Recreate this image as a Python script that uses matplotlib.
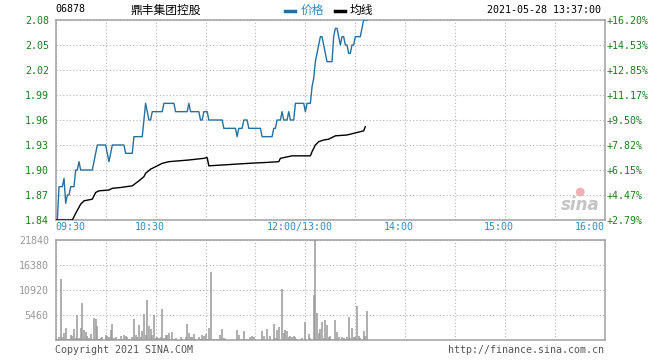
import matplotlib
matplotlib.use("Agg")
import matplotlib.pyplot as plt
import matplotlib.transforms as mtransforms
import numpy as np

code = "06878"
name = "鼎丰集团控股"
stamp = "2021-05-28 13:37:00"

# one value per minute from 09:30 (index 150 = 13:00)
price = [
    1.84, 1.84, 1.88, 1.88, 1.88, 1.89, 1.86, 1.87, 1.87, 1.88,
    1.88, 1.88, 1.90, 1.90, 1.91, 1.90, 1.90, 1.90, 1.90, 1.90,
    1.90, 1.90, 1.90, 1.91, 1.92, 1.93, 1.93, 1.93, 1.93, 1.93,
    1.93, 1.92, 1.91, 1.92, 1.93, 1.93, 1.93, 1.93, 1.93, 1.93,
    1.93, 1.93, 1.92, 1.92, 1.92, 1.92, 1.92, 1.94, 1.94, 1.94,
    1.94, 1.94, 1.94, 1.96, 1.98, 1.97, 1.96, 1.96, 1.97, 1.97,
    1.97, 1.97, 1.97, 1.97, 1.97, 1.98, 1.98, 1.98, 1.98, 1.98,
    1.98, 1.98, 1.97, 1.97, 1.97, 1.97, 1.97, 1.97, 1.97, 1.97,
    1.98, 1.97, 1.97, 1.97, 1.97, 1.97, 1.97, 1.96, 1.96, 1.97,
    1.97, 1.97, 1.96, 1.96, 1.96, 1.96, 1.96, 1.96, 1.96, 1.96,
    1.96, 1.95, 1.95, 1.95, 1.95, 1.95, 1.95, 1.95, 1.95, 1.94,
    1.95, 1.95, 1.95, 1.96, 1.96, 1.96, 1.95, 1.95, 1.95, 1.95,
    1.95, 1.95, 1.95, 1.95, 1.94, 1.94, 1.94, 1.94, 1.94, 1.94,
    1.94, 1.95, 1.95, 1.96, 1.96, 1.96, 1.97, 1.96, 1.96, 1.96,
    1.97, 1.96, 1.96, 1.96, 1.98, 1.98, 1.98, 1.98, 1.98, 1.98,
    1.97, 1.98, 1.98, 1.98, 2.00, 2.01, 2.03, 2.04, 2.05, 2.06,
    2.06, 2.05, 2.04, 2.03, 2.03, 2.03, 2.03, 2.06, 2.07, 2.07,
    2.06, 2.05, 2.06, 2.06, 2.05, 2.05, 2.04, 2.04, 2.05, 2.05,
    2.06, 2.06, 2.06, 2.06, 2.07, 2.08, 2.08, 2.08,
]

volume = [
    400, 220, 730, 13400, 730, 1460, 2550, 220, 220, 1090,
    870, 2400, 360, 5460, 360, 2690, 8000, 2180, 1820, 950,
    360, 1310, 220, 4880, 4590, 3130, 220, 360, 730, 0,
    1090, 870, 730, 2180, 3490, 360, 730, 0, 220, 950,
    220, 1090, 950, 730, 220, 0, 730, 4590, 1090, 730,
    3280, 730, 1970, 5680, 1090, 8740, 3130, 2400, 1090, 5460,
    360, 730, 360, 730, 6770, 360, 1090, 1090, 1460, 0,
    1820, 220, 360, 0, 0, 730, 220, 0, 730, 3490,
    1600, 730, 730, 1310, 220, 0, 730, 220, 1090, 950,
    1240, 220, 2550, 14920, 0, 220, 0, 220, 0, 1090,
    2400, 360, 220, 0, 0, 0, 0, 0, 0, 2180,
    1090, 0, 220, 1970, 0, 220, 0, 730, 950, 730,
    220, 0, 0, 0, 1970, 870, 0, 2400, 0, 950,
    0, 3490, 510, 2180, 2910, 0, 11140, 1600, 2180, 1970,
    730, 950, 730, 950, 730, 220, 0, 0, 510, 0,
    4000, 0, 1240, 360, 0, 9830, 21840, 5820, 1460, 2400,
    3860, 510, 4370, 3280, 730, 870, 220, 0, 4370, 1820,
    730, 0, 730, 510, 220, 730, 5100, 510, 2550, 730,
    730, 7430, 950, 510, 0, 1970, 950, 6330,
]

avg_minutes = [0, 10, 12, 15, 17, 22, 24, 26, 32, 34, 39, 46, 50, 53, 54, 57,
               60, 64, 68, 80, 89, 91, 92, 108, 116, 126, 134, 135, 142, 153,
               154, 156, 158, 161, 164, 168, 175, 179, 185, 186]
avg_values = [1.840, 1.840, 1.848, 1.859, 1.863, 1.865, 1.873, 1.875, 1.876,
              1.878, 1.879, 1.881, 1.887, 1.892, 1.896, 1.901, 1.904, 1.908,
              1.910, 1.912, 1.914, 1.915, 1.905, 1.907, 1.908, 1.909, 1.910,
              1.914, 1.917, 1.917, 1.922, 1.930, 1.934, 1.936, 1.937, 1.941,
              1.942, 1.944, 1.947, 1.952]

price_ticks = [1.84, 1.87, 1.90, 1.93, 1.96, 1.99, 2.02, 2.05, 2.08]
pct_labels = ["+2.79%", "+4.47%", "+6.15%", "+7.82%", "+9.50%",
              "+11.17%", "+12.85%", "+14.53%", "+16.20%"]
vol_ticks = [0, 5460, 10920, 16380, 21840]
vol_labels = ["", "5460", "10920", "16380", "21840"]
time_pos = [0, 60, 150, 210, 270, 330]
time_labels = ["09:30", "10:30", "12:00/13:00", "14:00", "15:00", "16:00"]

W, H = 660, 360
mono = "DejaVu Sans Mono"
cjk = ["Noto Sans CJK SC", "DejaVu Sans"]
green = "#1e7b1e"
blue = "#2f8cc0"
edge = "#a0a0a0"


def box(l, t, r, b):
    return [l / W, 1 - b / H, (r - l) / W, (b - t) / H]


def style(a):
    for s in a.spines.values():
        s.set_color(edge)
        s.set_linewidth(1.1)
    a.set_xlim(0, 330)
    a.set_xticks(np.arange(0, 331, 30))
    a.tick_params(axis="x", length=0, labelbottom=False)
    a.grid(True, ls=(0, (1, 2)), color="#b4b4b4", lw=0.8)
    a.set_axisbelow(True)


fig = plt.figure(figsize=(W / 100, H / 100), dpi=100)
ax = fig.add_axes(box(55.7, 20, 605, 220))
axv = fig.add_axes(box(55.7, 240, 605, 340))
style(ax)
style(axv)

ax.set_ylim(1.84, 2.08)
ax.set_yticks(price_ticks)
ax.set_yticklabels(["%.2f" % t for t in price_ticks])
ax.tick_params(axis="y", length=0, pad=5, labelcolor=green, labelsize=7.2)
for lab in ax.get_yticklabels():
    lab.set_family(mono)

ax2 = ax.twinx()
ax2.set_ylim(1.84, 2.08)
ax2.set_yticks(price_ticks)
ax2.set_yticklabels(pct_labels)
ax2.tick_params(axis="y", length=0, pad=1, labelcolor=green, labelsize=7.2)
for lab in ax2.get_yticklabels():
    lab.set_family(mono)
for s in ax2.spines.values():
    s.set_visible(False)

ax.plot(np.arange(len(price)), price, color="#2470a0", lw=1.0, zorder=3)
ax.plot(avg_minutes, avg_values, color="black", lw=1.0, zorder=3)

# sina watermark
ax.text(0.99, 0.03, "sina", transform=ax.transAxes, ha="right", va="bottom",
        fontsize=12, fontweight="bold", style="italic", color="#c4c4c4")
ax.scatter([0.955], [0.14], transform=ax.transAxes, s=40, color="#f0b0b0",
           edgecolors="none", zorder=2)

trans = mtransforms.blended_transform_factory(ax.transData, fig.transFigure)
for i, (p, t) in enumerate(zip(time_pos, time_labels)):
    ha = "left" if i == 0 else ("right" if i == len(time_pos) - 1 else "center")
    off = 0 if ha != "center" else -3.6
    fig.text(p + off, 1 - 227 / H, t, transform=trans, ha=ha, va="center",
             color=blue, fontsize=7.2, family=mono)

axv.set_ylim(0, 21840)
axv.set_yticks(vol_ticks)
axv.set_yticklabels(vol_labels)
axv.tick_params(axis="y", length=0, pad=5, labelcolor="#999999", labelsize=7.2)
for lab in axv.get_yticklabels():
    lab.set_family(mono)
axv.vlines(np.arange(len(volume)), 0, volume, color="#999999", lw=1.1, zorder=3)

# header
fig.text(55 / W, 1 - 9 / H, code, ha="left", va="center", fontsize=7.2,
         family=mono, color="black")
fig.text(166 / W, 1 - 10 / H, name, ha="center", va="center", fontsize=8.5,
         family=cjk, color="black")
fig.add_artist(plt.Line2D([285 / W, 295 / W], [1 - 11 / H] * 2, color="#2470a0", lw=2.5))
fig.text(301 / W, 1 - 10 / H, "价格", ha="left", va="center", fontsize=8.5,
         family=cjk, color=blue)
fig.add_artist(plt.Line2D([335 / W, 345 / W], [1 - 11 / H] * 2, color="black", lw=2.5))
fig.text(350 / W, 1 - 10 / H, "均线", ha="left", va="center", fontsize=8.5,
         family=cjk, color="black")
fig.text(601 / W, 1 - 10 / H, stamp, ha="right", va="center", fontsize=7.2,
         family=mono, color="black")

# footer
fig.text(55 / W, 1 - 350 / H, "Copyright 2021 SINA.COM", ha="left", va="center",
         fontsize=7.2, family=mono, color="#555555")
fig.text(604 / W, 1 - 350 / H, "http://finance.sina.com.cn", ha="right",
         va="center", fontsize=7.2, family=mono, color="#555555")

fig.savefig("out.png", dpi=100)
